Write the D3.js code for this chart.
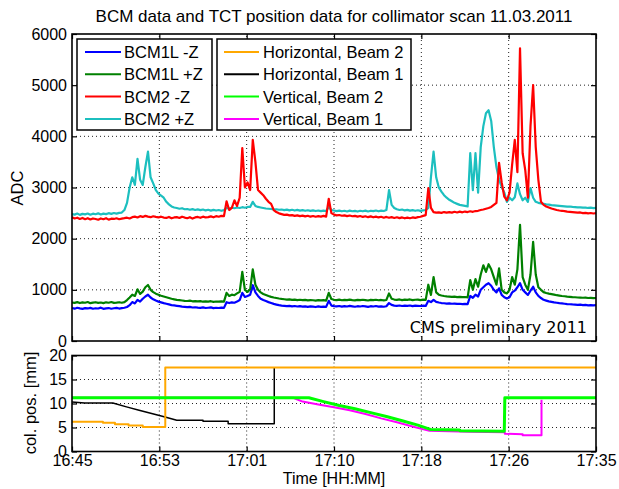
<!DOCTYPE html>
<html lang="en">
<head>
<meta charset="UTF-8">
<title>BCM data and TCT position data</title>
<script src="https://cdnjs.cloudflare.com/ajax/libs/d3/7.8.5/d3.min.js"></script>
<style>
    body { margin: 0; background: #fff; }
    svg { display: block; font-family: "Liberation Sans", Arial, sans-serif; }
    .grid line { stroke: #222; stroke-width: 1; stroke-dasharray: 1, 3; }
    .axis line { stroke: #000; stroke-width: 1.2; }
    .axis text { font-size: 16px; fill: #000; font-family: "Liberation Sans", Arial, sans-serif; }
    .trace { fill: none; stroke-linejoin: round; }
</style>
</head>
<body>
<svg width="619" height="489"></svg>
<script>
    // time axis: minutes after 16:45
    const timeTickLabels = ["16:45", "16:53", "17:01", "17:10", "17:18", "17:26", "17:35"];
    const adcTicks = [0, 1000, 2000, 3000, 4000, 5000, 6000];
    const posTicks = [0, 5, 10, 15, 20];

    // BCM samples, one value every 15 s from 16:45 to 17:35
    const bcmTime = d3.range(0, 50.01, 0.25);

    const bcm1lMinusZ = [
        645, 632, 650, 638, 628, 642, 636, 648, 630, 640, 635, 652, 628, 638, 644, 630, 640, 648, 634, 642,
        650, 665, 700, 760, 735, 805, 770, 825, 870, 905, 850, 815, 790, 770, 755, 740, 728, 715, 702, 695,
        688, 680, 672, 668, 662, 666, 655, 660, 652, 648, 658, 645, 650, 656, 642, 650, 645, 652, 648, 758,
        742, 755, 748, 770, 800, 940, 860, 880, 905, 1090, 950, 880, 825, 800, 780, 760, 742, 725, 712, 700,
        692, 688, 682, 686, 678, 684, 674, 680, 672, 678, 668, 675, 670, 664, 676, 668, 672, 666, 785, 692,
        682, 676, 684, 672, 680, 674, 686, 678, 670, 680, 674, 684, 676, 668, 680, 674, 684, 672, 678, 670,
        680, 742, 705, 692, 688, 694, 684, 690, 686, 694, 682, 690, 688, 684, 692, 686, 785, 760, 805, 765,
        752, 742, 738, 732, 735, 728, 732, 725, 728, 722, 726, 720, 880, 845, 905, 870, 1000, 1050, 1100, 1130,
        1080, 1000, 950, 1030, 900, 855, 830, 855, 950, 985, 1050, 1130, 1000, 950, 900, 985, 1060, 950, 880, 840,
        805, 790, 775, 765, 755, 748, 740, 734, 728, 722, 718, 714, 712, 706, 710, 702, 705, 698, 702, 696,
        700
    ];

    const bcm1lPlusZ = [
        752, 745, 760, 742, 755, 748, 762, 740, 750, 758, 745, 752, 740, 756, 748, 762, 745, 750, 758, 748,
        760, 800, 850, 905, 880, 1010, 920, 965, 1050, 1095, 1000, 955, 925, 905, 885, 870, 855, 840, 825, 815,
        805, 798, 792, 786, 782, 788, 776, 780, 774, 780, 768, 776, 770, 778, 765, 772, 768, 776, 770, 940,
        880, 905, 895, 930, 960, 1350, 1000, 960, 1010, 1400, 1100, 1000, 950, 920, 900, 880, 862, 850, 840, 830,
        822, 816, 810, 814, 804, 810, 800, 806, 798, 804, 794, 800, 796, 790, 800, 794, 798, 790, 940, 820,
        805, 798, 808, 796, 804, 798, 808, 800, 794, 804, 798, 806, 800, 792, 804, 798, 806, 796, 802, 794,
        802, 930, 825, 810, 805, 812, 800, 808, 804, 812, 798, 806, 808, 800, 810, 804, 1100, 900, 1250, 950,
        905, 890, 880, 872, 868, 862, 866, 858, 862, 856, 860, 854, 1190, 1000, 1210, 1060, 1300, 1480, 1350, 1500,
        1400, 1250, 1100, 1420, 1000, 950, 930, 1000, 1250, 1100, 1400, 2270, 1250, 1100, 1000, 1300, 1940, 1300, 1050, 1000,
        955, 938, 925, 915, 905, 895, 888, 880, 874, 868, 864, 858, 855, 850, 848, 845, 846, 840, 844, 838,
        840
    ];

    const bcm2MinusZ = [
        2420, 2395, 2410, 2385, 2405, 2380, 2400, 2375, 2395, 2385, 2370, 2395, 2380, 2400, 2372, 2390, 2385, 2398, 2380, 2392,
        2400, 2410, 2395, 2420, 2430, 2415, 2440, 2425, 2445, 2430, 2420, 2438, 2425, 2415, 2430, 2412, 2405, 2425, 2398, 2415,
        2420, 2405, 2430, 2412, 2400, 2420, 2392, 2415, 2425, 2408, 2430, 2415, 2420, 2435, 2418, 2440, 2428, 2445, 2440, 2730,
        2560, 2600, 2750, 2640, 2800, 3770, 3000, 3100, 2950, 3930, 3500, 2950, 2900, 2850, 2780, 2720, 2680, 2560, 2520, 2495,
        2480, 2465, 2470, 2455, 2460, 2445, 2455, 2440, 2450, 2435, 2448, 2430, 2442, 2428, 2440, 2432, 2445, 2430, 2780, 2500,
        2470, 2455, 2462, 2448, 2455, 2440, 2452, 2438, 2445, 2430, 2442, 2425, 2438, 2420, 2435, 2418, 2430, 2415, 2428, 2410,
        2425, 2408, 2420, 2405, 2418, 2402, 2415, 2398, 2412, 2400, 2415, 2405, 2420, 2428, 2445, 2460, 2990, 2600, 2520, 2510,
        2515, 2505, 2520, 2508, 2518, 2510, 2525, 2512, 2528, 2515, 2530, 2520, 2535, 2525, 2540, 2545, 2560, 2570, 2585, 2600,
        2620, 2660, 2700, 3480, 3100, 2820, 2750, 2900, 3450, 3930, 3300, 5720, 3670, 3340, 2800, 4200, 5000, 3790, 3150, 2720,
        2660, 2630, 2610, 2590, 2575, 2560, 2550, 2545, 2538, 2530, 2525, 2520, 2515, 2508, 2512, 2500, 2505, 2495, 2502, 2492,
        2498
    ];

    const bcm2PlusZ = [
        2480, 2470, 2490, 2465, 2485, 2475, 2492, 2468, 2488, 2478, 2495, 2472, 2490, 2480, 2498, 2485, 2502, 2490, 2505, 2510,
        2560, 2700, 3000, 3200, 3050, 3560, 3150, 3050, 3400, 3700, 3200, 3080, 2950, 2880, 2840, 2800, 2720, 2670, 2630, 2610,
        2600, 2585, 2595, 2575, 2580, 2565, 2578, 2560, 2572, 2558, 2570, 2552, 2565, 2548, 2562, 2550, 2560, 2545, 2558, 2600,
        2590, 2605, 2595, 2610, 2600, 2615, 2605, 2620, 2620, 2720, 2640, 2620, 2610, 2600, 2590, 2585, 2580, 2570, 2575, 2565,
        2570, 2558, 2568, 2552, 2565, 2550, 2562, 2548, 2558, 2545, 2555, 2542, 2552, 2540, 2550, 2538, 2548, 2540, 2620, 2560,
        2550, 2538, 2548, 2535, 2545, 2532, 2548, 2536, 2542, 2530, 2545, 2535, 2548, 2532, 2546, 2538, 2550, 2535, 2548, 2540,
        2560, 2950, 2660, 2600, 2575, 2560, 2570, 2552, 2562, 2548, 2558, 2545, 2555, 2542, 2552, 2560, 2600, 3200, 3700, 3200,
        3000, 2920, 2850, 2800, 2760, 2730, 2700, 2680, 2660, 2650, 2640, 2630, 3670, 2950, 3670, 2900, 3790, 4200, 4450, 4510,
        4300, 3790, 3400, 3150, 3010, 2900, 2720, 2800, 2750, 2810, 3080, 2870, 2750, 2800, 2720, 2990, 2800, 2720, 2700, 2690,
        2680, 2670, 2665, 2655, 2650, 2645, 2640, 2635, 2630, 2625, 2628, 2620, 2615, 2610, 2612, 2605, 2608, 2600, 2605, 2598,
        2602
    ];

    // collimator positions [minutes, mm]
    const horizBeam2 = [[0, 6.2], [2.95, 6.2], [2.95, 6.0], [4.1, 6.0], [4.1, 5.7], [5.4, 5.7], [5.4, 5.4], [6.75, 5.4],
        [6.75, 5.1], [8.9, 5.1], [8.9, 17.5], [50, 17.5]];
    const horizBeam1 = [[0, 10.3], [1.2, 10.1], [3.9, 10.1], [5.2, 9.3], [6.4, 8.6], [7.6, 7.9], [8.7, 7.3], [10.0, 6.5],
        [12.5, 6.5], [12.5, 6.3], [14.9, 6.3], [14.9, 5.8], [19.3, 5.8], [19.3, 17.4]];
    const vertBeam2 = [[0, 11.2], [22.6, 11.2], [24, 10.4], [25.5, 9.6], [27, 8.9], [28.5, 8.1], [30, 7.3], [31.5, 6.4],
        [33, 5.5], [34.2, 4.6], [37, 4.5], [37, 4.3], [41.25, 4.2], [41.3, 11.2], [50, 11.2]];
    const vertBeam1 = [[0, 11.2], [21.1, 11.2], [22, 10.4], [23.5, 9.8], [25, 9.2], [26.5, 8.6], [28, 7.8], [29.5, 6.9],
        [31, 6.1], [32.5, 5.2], [34.1, 4.3], [36, 4.2], [38, 4.1], [41.3, 4.0], [41.3, 3.7], [43, 3.6], [43, 3.4],
        [44.8, 3.4], [44.8, 10.8]];

    const svg = d3.select("svg");

    const x = d3.scaleLinear().domain([0, 50]).range([72, 596]);
    const yTop = d3.scaleLinear().domain([0, 6000]).range([341, 34]);
    const yBot = d3.scaleLinear().domain([0, 20]).range([451.5, 355.5]);
    const timeTicks = timeTickLabels.map((d, i) => i * 50 / 6);

    function drawPanel(y, yTicks, showTime) {
        const [y0, y1] = y.range();
        const g = svg.append("g");

        // dotted grid at the inner ticks
        const grid = g.append("g").attr("class", "grid");
        grid.selectAll(".vx").data(timeTicks.slice(1, -1)).enter().append("line")
            .attr("x1", d => x(d)).attr("x2", d => x(d)).attr("y1", y0).attr("y2", y1);
        grid.selectAll(".hy").data(yTicks.slice(1, -1)).enter().append("line")
            .attr("x1", 72).attr("x2", 596).attr("y1", d => y(d)).attr("y2", d => y(d));

        g.append("g").attr("class", "axis").attr("transform", `translate(0,${y0})`)
            .call(d3.axisBottom(x).tickValues(timeTicks).tickSize(-5).tickPadding(3)
                .tickFormat((d, i) => showTime ? timeTickLabels[i] : ""));
        g.append("g").attr("class", "axis").attr("transform", `translate(0,${y1})`)
            .call(d3.axisTop(x).tickValues(timeTicks).tickSize(-5).tickFormat(""));
        g.append("g").attr("class", "axis").attr("transform", "translate(72,0)")
            .call(d3.axisLeft(y).tickValues(yTicks).tickSize(-5).tickPadding(5).tickFormat(d3.format("d")));
        g.append("g").attr("class", "axis").attr("transform", "translate(596,0)")
            .call(d3.axisRight(y).tickValues(yTicks).tickSize(-5).tickFormat(""));
        g.selectAll(".domain").remove();
        return g;
    }

    function frame(y) {
        const [y0, y1] = y.range();
        svg.append("rect").attr("x", 72).attr("y", y1).attr("width", 524).attr("height", y0 - y1)
            .attr("fill", "none").attr("stroke", "#000").attr("stroke-width", 1.6);
    }

    // ---- top panel: BCM signals
    drawPanel(yTop, adcTicks, false);

    const bcmLine = d3.line().x((d, i) => x(bcmTime[i])).y(d => yTop(d));
    const bcmSeries = [
        { name: "BCM1L -Z", values: bcm1lMinusZ, color: "#0000ff" },
        { name: "BCM1L +Z", values: bcm1lPlusZ, color: "#008000" },
        { name: "BCM2 -Z", values: bcm2MinusZ, color: "#ff0000" },
        { name: "BCM2 +Z", values: bcm2PlusZ, color: "#1cbfbf" }
    ];
    [0, 1, 3, 2].forEach(k => {
        svg.append("path").attr("class", "trace")
            .attr("d", bcmLine(bcmSeries[k].values))
            .attr("stroke", bcmSeries[k].color).attr("stroke-width", 2.2);
    });

    svg.append("text").attr("x", 587).attr("y", 333).attr("text-anchor", "end")
        .attr("font-family", "DejaVu Sans").attr("font-size", 16).text("CMS preliminary 2011");

    // legends
    const posSeries = [
        { name: "Horizontal, Beam 2", values: horizBeam2, color: "#ffa800", width: 2 },
        { name: "Horizontal, Beam 1", values: horizBeam1, color: "#000000", width: 1.5 },
        { name: "Vertical, Beam 2", values: vertBeam2, color: "#00ff00", width: 3 },
        { name: "Vertical, Beam 1", values: vertBeam1, color: "#ff00ff", width: 2 }
    ];

    function legend(items, bx, bw, lx0, lx1, tx) {
        const lg = svg.append("g");
        lg.append("rect").attr("x", bx).attr("y", 39).attr("width", bw).attr("height", 91)
            .attr("fill", "#fff").attr("stroke", "#000").attr("stroke-width", 1.5);
        items.forEach((s, i) => {
            const yy = 52 + i * 22.3;
            lg.append("line").attr("x1", lx0).attr("x2", lx1).attr("y1", yy).attr("y2", yy)
                .attr("stroke", s.color).attr("stroke-width", 2);
            lg.append("text").attr("x", tx).attr("y", yy).attr("dy", "0.36em")
                .attr("font-size", 16.5).text(s.name);
        });
    }
    legend(bcmSeries, 77, 135, 85, 121, 124);
    legend(posSeries, 217, 194, 224, 259, 263);

    frame(yTop);

    // ---- bottom panel: collimator positions
    drawPanel(yBot, posTicks, true);
    const posLine = d3.line().x(d => x(d[0])).y(d => yBot(d[1]));
    [1, 0, 3, 2].forEach(k => {
        svg.append("path").attr("class", "trace")
            .attr("d", posLine(posSeries[k].values))
            .attr("stroke", posSeries[k].color).attr("stroke-width", posSeries[k].width);
    });
    frame(yBot);

    // titles and axis labels
    svg.append("text").attr("x", 334).attr("y", 22).attr("text-anchor", "middle")
        .attr("font-size", 17).text("BCM data and TCT position data for collimator scan 11.03.2011");
    svg.append("text").attr("transform", "translate(23,188) rotate(-90)").attr("text-anchor", "middle")
        .attr("font-size", 16.5).text("ADC");
    svg.append("text").attr("transform", "translate(36,403) rotate(-90)").attr("text-anchor", "middle")
        .attr("font-size", 16.5).text("col. pos. [mm]");
    svg.append("text").attr("x", 334).attr("y", 484).attr("text-anchor", "middle")
        .attr("font-size", 16).text("Time [HH:MM]");
</script>
</body>
</html>
